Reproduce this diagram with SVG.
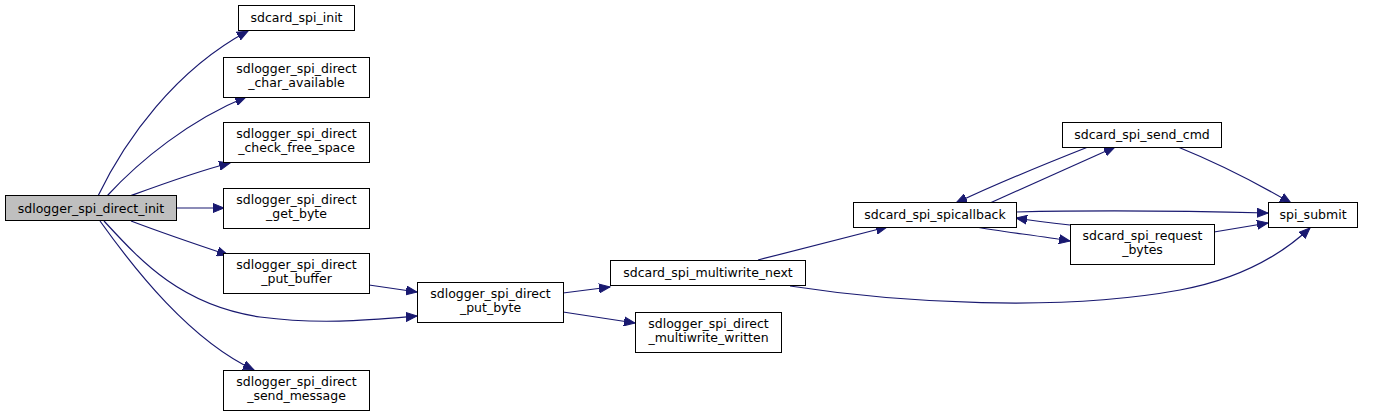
<svg xmlns="http://www.w3.org/2000/svg" width="1375" height="417" viewBox="0 0 1375 417">
<style>
.n rect{fill:#ffffff;stroke:#000000;stroke-width:1}
.n.h rect{fill:#bfbfbf}
.n text{font-family:"DejaVu Sans",sans-serif;font-size:12.5px;text-anchor:middle;fill:#000000}
.e path{fill:none;stroke:#191970;stroke-width:1.2}
</style>
<defs>
<marker id="a" markerUnits="userSpaceOnUse" markerWidth="12" markerHeight="10" refX="11" refY="5" orient="auto">
<polygon points="0,0.5 11,5 0,9.5" fill="#191970" stroke="#191970"/>
</marker>
</defs>
<rect width="1375" height="417" fill="#ffffff"/>
<g id="connectors" class="e">
<path d="M98,196 C125,140 175,70 248,31" marker-end="url(#a)"/>
<path d="M107,196 C140,160 190,120 246,97" marker-end="url(#a)"/>
<path d="M130,196 C160,185 195,172 230,163" marker-end="url(#a)"/>
<path d="M176,208 L224,208" marker-end="url(#a)"/>
<path d="M131,221 C160,232 195,244 228,255" marker-end="url(#a)"/>
<path d="M104,221 C140,260 180,305 260,317 C320,325 370,320 417,316" marker-end="url(#a)"/>
<path d="M100,221 C135,270 190,340 254,370" marker-end="url(#a)"/>
<path d="M369,285 L417,292" marker-end="url(#a)"/>
<path d="M563,293 L610,287" marker-end="url(#a)"/>
<path d="M563,312 L635,323" marker-end="url(#a)"/>
<path d="M758,260 L887,227" marker-end="url(#a)"/>
<path d="M790,286 C900,303 1060,312 1180,290 C1240,279 1280,256 1310,228" marker-end="url(#a)"/>
<path d="M990,203 C1030,185 1075,165 1115,147" marker-end="url(#a)"/>
<path d="M1088,147 C1050,162 1000,182 956,203" marker-end="url(#a)"/>
<path d="M1178,147 C1215,162 1255,182 1291,203" marker-end="url(#a)"/>
<path d="M1016,212 C1100,210 1190,211 1268,213" marker-end="url(#a)"/>
<path d="M975,227 C1005,232 1040,236 1070,241" marker-end="url(#a)"/>
<path d="M1070,225 C1052,223 1035,221 1016,218" marker-end="url(#a)"/>
<path d="M1214,232 C1232,229 1250,226 1268,223" marker-end="url(#a)"/>
</g>
<g id="n_init" class="n h"><rect x="5.5" y="195.5" width="171" height="25"/><text x="91" y="213">sdlogger_spi_direct_init</text></g>
<g id="n_sdcard_spi_init" class="n"><rect x="238.5" y="5.5" width="116" height="25"/><text x="296.5" y="22">sdcard_spi_init</text></g>
<g id="n_char_available" class="n"><rect x="223.5" y="57.5" width="146" height="40"/><text x="296.5" y="73">sdlogger_spi_direct</text><text x="296.5" y="87">_char_available</text></g>
<g id="n_check_free_space" class="n"><rect x="223.5" y="122.5" width="146" height="40"/><text x="296.5" y="138">sdlogger_spi_direct</text><text x="296.5" y="152">_check_free_space</text></g>
<g id="n_get_byte" class="n"><rect x="223.5" y="188.5" width="146" height="40"/><text x="296.5" y="204">sdlogger_spi_direct</text><text x="296.5" y="218">_get_byte</text></g>
<g id="n_put_buffer" class="n"><rect x="223.5" y="253.5" width="146" height="40"/><text x="296.5" y="269">sdlogger_spi_direct</text><text x="296.5" y="283">_put_buffer</text></g>
<g id="n_send_message" class="n"><rect x="223.5" y="370.5" width="146" height="40"/><text x="296.5" y="386">sdlogger_spi_direct</text><text x="296.5" y="400">_send_message</text></g>
<g id="n_put_byte" class="n"><rect x="417.5" y="282.5" width="146" height="40"/><text x="490.5" y="298">sdlogger_spi_direct</text><text x="490.5" y="312">_put_byte</text></g>
<g id="n_multiwrite_next" class="n"><rect x="610.5" y="260.5" width="195" height="25"/><text x="708" y="277">sdcard_spi_multiwrite_next</text></g>
<g id="n_multiwrite_written" class="n"><rect x="635.5" y="312.5" width="146" height="40"/><text x="708.5" y="328">sdlogger_spi_direct</text><text x="708.5" y="342">_multiwrite_written</text></g>
<g id="n_spicallback" class="n"><rect x="853.5" y="202.5" width="163" height="25"/><text x="935" y="219">sdcard_spi_spicallback</text></g>
<g id="n_send_cmd" class="n"><rect x="1062.5" y="122.5" width="159" height="25"/><text x="1142" y="139">sdcard_spi_send_cmd</text></g>
<g id="n_spi_submit" class="n"><rect x="1268.5" y="202.5" width="89" height="25"/><text x="1313" y="219">spi_submit</text></g>
<g id="n_request_bytes" class="n"><rect x="1070.5" y="224.5" width="144" height="40"/><text x="1142.5" y="240">sdcard_spi_request</text><text x="1142.5" y="254">_bytes</text></g>
</svg>
